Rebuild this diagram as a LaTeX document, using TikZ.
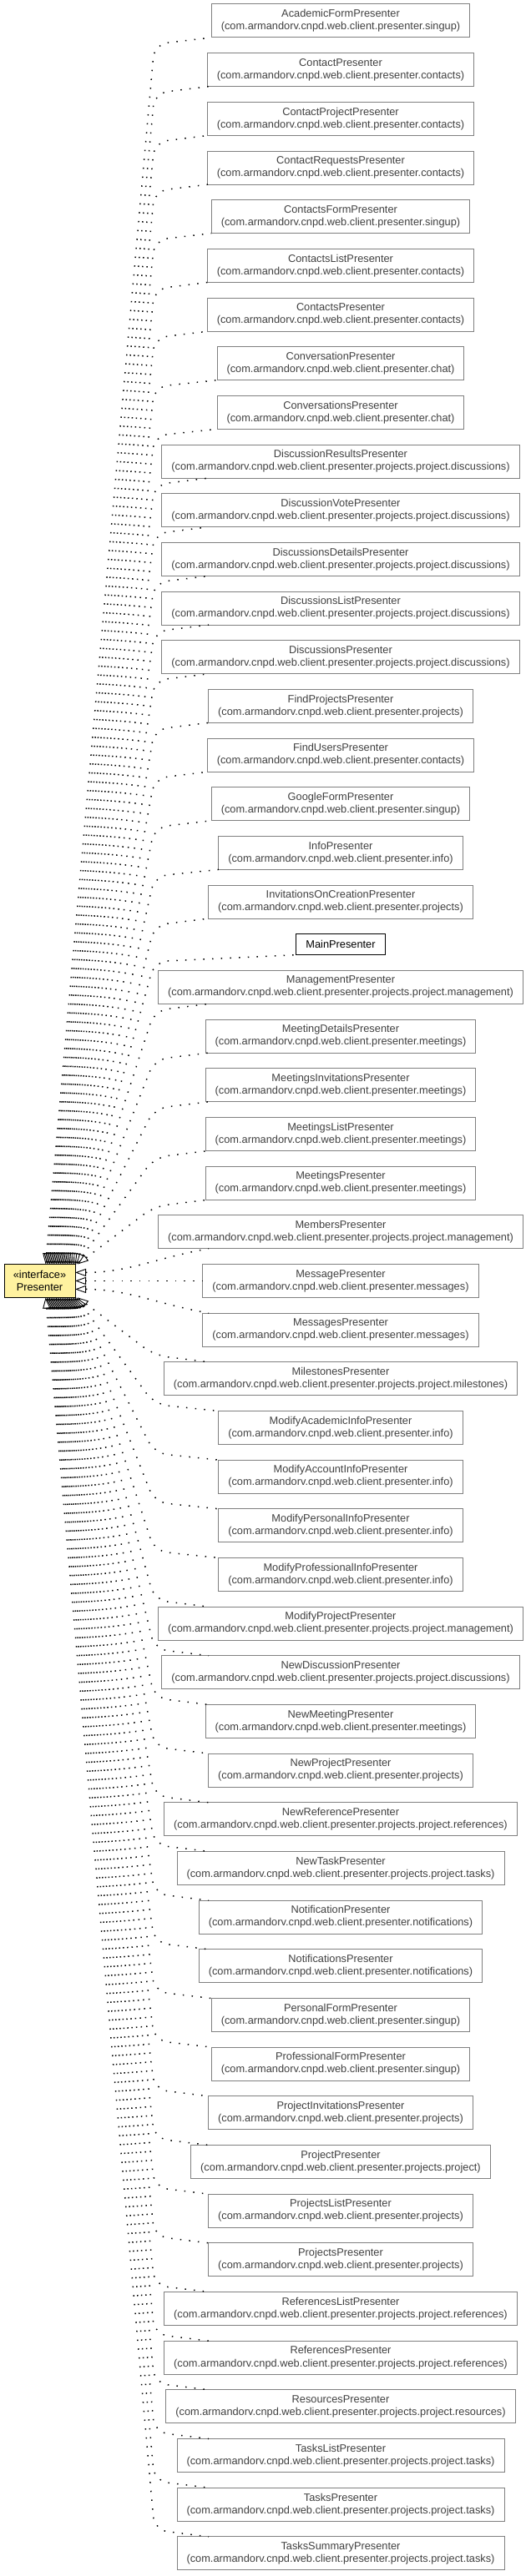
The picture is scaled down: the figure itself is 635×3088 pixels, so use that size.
\documentclass[tikz,border=0pt]{standalone}
\usepackage{fontspec}
\setmainfont{Liberation Sans}
\usetikzlibrary{arrows.meta}
\usetikzlibrary{calc}
\usetikzlibrary{positioning}
\definecolor{ifacefill}{RGB}{255,242,160}
\definecolor{clsline}{RGB}{128,128,128}
\definecolor{clstext}{RGB}{64,64,64}
\newcommand{\pkgroot}{com.armandorv.cnpd.web.client.presenter}

\begin{document}
\begin{tikzpicture}[
			x=1pt, y=-1pt,
			every node/.style={font=\fontsize{12.8}{15}\selectfont, align=center, inner ysep=0pt, inner xsep=11.5pt, outer sep=0pt},
			cls/.style={draw=clsline, text=clstext, line width=1pt, minimum height=40pt},
			mainbox/.style={draw=black, line width=1pt, minimum height=25pt},
			iface/.style={draw=black, fill=ifacefill, line width=1pt, minimum width=85pt, minimum height=40pt, inner xsep=0pt},
			impl/.style={line width=1.5pt, dash pattern=on 1.5pt off 9.2pt, rounded corners=16pt,
				{Triangle[length=13pt, width=9pt, fill=white, line width=0.9pt]}-}
		]
		\useasboundingbox (0,0) rectangle (635,3088);

		% implementing classes, one rank
		\foreach \cls/\pkg [count=\i] in {
				AcademicFormPresenter/singup, ContactPresenter/contacts, ContactProjectPresenter/contacts,
				ContactRequestsPresenter/contacts, ContactsFormPresenter/singup, ContactsListPresenter/contacts,
				ContactsPresenter/contacts, ConversationPresenter/chat, ConversationsPresenter/chat,
				DiscussionResultsPresenter/projects.project.discussions, DiscussionVotePresenter/projects.project.discussions,
				DiscussionsDetailsPresenter/projects.project.discussions, DiscussionsListPresenter/projects.project.discussions,
				DiscussionsPresenter/projects.project.discussions, FindProjectsPresenter/projects, FindUsersPresenter/contacts,
				GoogleFormPresenter/singup, InfoPresenter/info, InvitationsOnCreationPresenter/projects,
				MainPresenter/none, ManagementPresenter/projects.project.management, MeetingDetailsPresenter/meetings,
				MeetingsInvitationsPresenter/meetings, MeetingsListPresenter/meetings, MeetingsPresenter/meetings,
				MembersPresenter/projects.project.management, MessagePresenter/messages, MessagesPresenter/messages,
				MilestonesPresenter/projects.project.milestones, ModifyAcademicInfoPresenter/info,
				ModifyAccountInfoPresenter/info, ModifyPersonalInfoPresenter/info, ModifyProfessionalInfoPresenter/info,
				ModifyProjectPresenter/projects.project.management, NewDiscussionPresenter/projects.project.discussions,
				NewMeetingPresenter/meetings, NewProjectPresenter/projects, NewReferencePresenter/projects.project.references,
				NewTaskPresenter/projects.project.tasks, NotificationPresenter/notifications,
				NotificationsPresenter/notifications, PersonalFormPresenter/singup, ProfessionalFormPresenter/singup,
				ProjectInvitationsPresenter/projects, ProjectPresenter/projects.project, ProjectsListPresenter/projects,
				ProjectsPresenter/projects, ReferencesListPresenter/projects.project.references,
				ReferencesPresenter/projects.project.references, ResourcesPresenter/projects.project.resources,
				TasksListPresenter/projects.project.tasks, TasksPresenter/projects.project.tasks,
				TasksSummaryPresenter/projects.project.tasks}{
			\pgfmathtruncatemacro\prev{\i-1}
			\ifnum\i=1
				\node[cls] (b1) at (408,25) {\cls\\(\pkgroot.\pkg)};
			\else\ifnum\i=20
				\node[mainbox, below=18.67pt of b\prev] (b20) {\cls};
			\else
				\node[cls, below=18.67pt of b\prev] (b\i) {\cls\\(\pkgroot.\pkg)};
			\fi\fi
		}

		\coordinate (pcol) at (47.5,0);
		\node[iface] (pres) at (pcol |- b27) {«interface»\\Presenter};

		% realizations, upper half
		\foreach \i in {1,...,25}{
			\pgfmathsetmacro\ex{88-1.6*(25-\i)}
			\draw[impl] let \p1=(b\i.south west), \n1={max(\x1,250pt)} in
				([xshift=\ex pt]pres.north west) -- (185pt,\y1-8pt) -- (\n1,\y1);
		}
		% the three facing the interface
		\draw[impl] let \p1=(b26.south west), \n1={max(\x1,250pt)} in
			([yshift=10pt]pres.east) to[out=0, in=190] (\n1,\y1);
		\draw[impl] (pres.east) -- (b27.west);
		\draw[impl] let \p1=(b28.north west), \n1={max(\x1,250pt)} in
			([yshift=-10pt]pres.east) to[out=0, in=170] (\n1,\y1);
		% lower half
		\foreach \i in {29,...,53}{
			\pgfmathsetmacro\ex{88-1.6*(\i-29)}
			\draw[impl] let \p1=(b\i.north west), \n1={max(\x1,250pt)} in
				([xshift=\ex pt]pres.south west) -- (185pt,\y1+8pt) -- (\n1,\y1);
		}
	\end{tikzpicture}
\end{document}
